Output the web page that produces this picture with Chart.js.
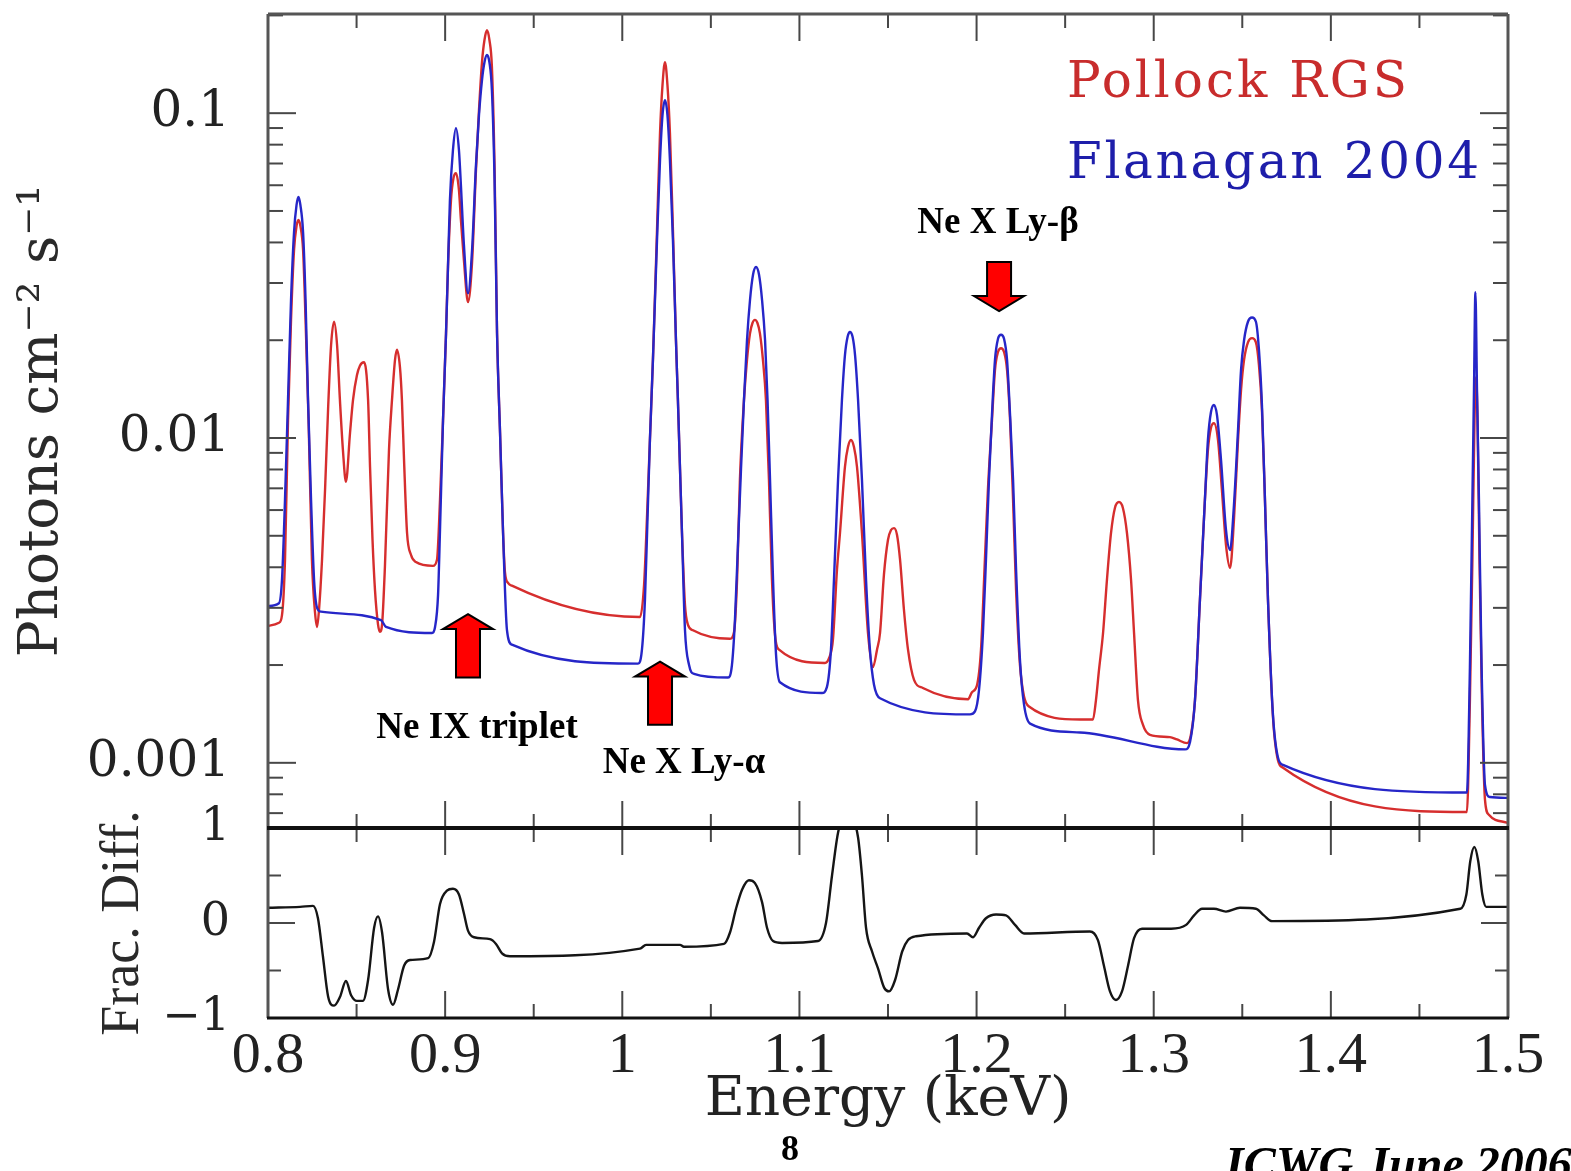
<!DOCTYPE html>
<html>
<head>
<meta charset="utf-8">
<title>Pollock RGS vs Flanagan 2004</title>
<script src="https://cdn.jsdelivr.net/npm/chart.js@4.4.1/dist/chart.umd.min.js"></script>
<style>
    html, body { margin: 0; padding: 0; background: #fff; }
    #wrap { position: relative; width: 1571px; height: 1171px; overflow: hidden; }
    canvas { display: block; }
</style>
</head>
<body>
<div id="wrap"><canvas id="spectrum" width="1571" height="1171"></canvas></div>
<script>
/* Ne IX / Ne X region: RGS spectrum against the Flanagan 2004 model, with fractional difference below */

const energyTicks = [0.8, 0.9, 1.0, 1.1, 1.2, 1.3, 1.4, 1.5];
const energyTickText = ['0.8', '0.9', '1', '1.1', '1.2', '1.3', '1.4', '1.5'];
const fluxTicks = [0.001, 0.01, 0.1];
const fluxTickText = ['0.001', '0.01', '0.1'];
const diffTicks = [-1, 0, 1];
const diffTickText = ['\u22121', '0', '1'];

const seriesNames = ['Pollock RGS', 'Flanagan 2004'];

/* Pollock RGS (photons cm-2 s-1) */
const rgsEnergy = [
    0.8000, 0.8062, 0.8079, 0.8096, 0.8113, 0.8130, 0.8147, 0.8161, 0.8172, 0.8183, 0.8198, 0.8212, 0.8229, 0.8248, 0.8265, 0.8277,
    0.8288, 0.8305, 0.8322, 0.8339, 0.8356, 0.8373, 0.8390, 0.8406, 0.8423, 0.8440,
    0.8463, 0.8480, 0.8502, 0.8519, 0.8542, 0.8565, 0.8576, 0.8590, 0.8604, 0.8621, 0.8632,
    0.8644, 0.8660, 0.8683, 0.8700, 0.8717, 0.8728, 0.8745, 0.8756, 0.8768, 0.8785, 0.8807, 0.8835, 0.8931,
    0.8954, 0.8971, 0.8988, 0.9005, 0.9016, 0.9033, 0.9047, 0.9061, 0.9078, 0.9089, 0.9106, 0.9129, 0.9152, 0.9174, 0.9191, 0.9208, 0.9222, 0.9236, 0.9250, 0.9264, 0.9279, 0.9293, 0.9310, 0.9327, 0.9338, 0.9355, 0.9377,
    1.0100, 1.0123, 1.0140, 1.0156, 1.0173, 1.0196, 1.0213, 1.0227, 1.0241, 1.0255, 1.0269, 1.0286, 1.0303, 1.0314, 1.0337, 1.0354, 1.0371, 1.0399,
    1.0608, 1.0631, 1.0648, 1.0664, 1.0687, 1.0704, 1.0721, 1.0735, 1.0749, 1.0763, 1.0777, 1.0794, 1.0811, 1.0828, 1.0845, 1.0862, 1.0885,
    1.1144, 1.1167, 1.1189, 1.1212, 1.1229, 1.1257, 1.1274, 1.1291, 1.1308, 1.1325, 1.1353, 1.1387, 1.1415, 1.1438, 1.1455, 1.1477, 1.1500, 1.1517, 1.1534, 1.1551, 1.1568, 1.1590, 1.1613, 1.1647, 1.1697,
    1.1952, 1.1974, 1.2002, 1.2025, 1.2047, 1.2064, 1.2087, 1.2104, 1.2121, 1.2138, 1.2155, 1.2172, 1.2189, 1.2206, 1.2223, 1.2245, 1.2268, 1.2296,
    1.2584, 1.2657, 1.2674, 1.2691, 1.2714, 1.2736, 1.2759, 1.2781, 1.2804, 1.2826, 1.2849, 1.2872, 1.2889, 1.2911, 1.2939, 1.2979, 1.3092, 1.3131, 1.3188,
    1.3210, 1.3233, 1.3261, 1.3289, 1.3306, 1.3323, 1.3340, 1.3363, 1.3385, 1.3408, 1.3431, 1.3453, 1.3476, 1.3493, 1.3510, 1.3532, 1.3555, 1.3577, 1.3594, 1.3611, 1.3628, 1.3645, 1.3673, 1.3701, 1.3730,
    1.4768, 1.4785, 1.4799, 1.4811, 1.4819, 1.4828, 1.4839, 1.4853, 1.4870, 1.4892, 1.5000
];
const rgsFlux = [
    0.00264, 0.0027, 0.00285, 0.00422, 0.01135, 0.0231, 0.0379, 0.0449, 0.0469, 0.0449, 0.0379, 0.0231, 0.01135, 0.00422, 0.00292, 0.00262,
    0.00296, 0.00422, 0.00692, 0.0122, 0.0193, 0.0228, 0.0193, 0.0131, 0.00918, 0.00733,
    0.01036, 0.0131, 0.0156, 0.0167, 0.0171, 0.0131, 0.00815, 0.00486, 0.0034, 0.00267, 0.00253,
    0.00267, 0.00401, 0.00918, 0.0131, 0.0174, 0.0187, 0.0165, 0.0131, 0.00855, 0.0051, 0.00437, 0.00415, 0.00404,
    0.00422, 0.00645, 0.01135, 0.021, 0.0336, 0.054, 0.0631, 0.0653, 0.058, 0.0469, 0.0353, 0.0262, 0.0348, 0.0668, 0.102, 0.1435, 0.168, 0.180, 0.168, 0.1386, 0.0682, 0.021, 0.01036, 0.0051, 0.00385, 0.00358, 0.00351,
    0.00281, 0.00353, 0.0058, 0.00986, 0.0174, 0.0436, 0.0868, 0.122, 0.1435, 0.122, 0.0868, 0.0436, 0.02, 0.0131, 0.0051, 0.00306, 0.00266, 0.00256,
    0.00241, 0.00253, 0.00366, 0.00743, 0.0131, 0.0174, 0.021, 0.0226, 0.0231, 0.0226, 0.021, 0.0174, 0.0131, 0.00743, 0.00366, 0.00248, 0.00223,
    0.00203, 0.0021, 0.00239, 0.00393, 0.0051, 0.00815, 0.00938, 0.00986, 0.00938, 0.00815, 0.0051, 0.00251, 0.00197, 0.00223, 0.00251, 0.00379, 0.00486, 0.00521, 0.00528, 0.00503, 0.00422, 0.00296, 0.00223, 0.0018, 0.0017,
    0.00157, 0.00165, 0.00173, 0.00223, 0.00422, 0.00692, 0.01135, 0.0162, 0.0184, 0.0189, 0.0184, 0.0162, 0.01135, 0.00645, 0.0034, 0.002, 0.0016, 0.00149,
    0.00136, 0.00136, 0.00156, 0.00193, 0.00251, 0.00366, 0.0051, 0.00609, 0.00635, 0.00609, 0.0051, 0.00366, 0.00251, 0.00156, 0.00131, 0.00122, 0.0012, 0.00118, 0.00115,
    0.00122, 0.00156, 0.00318, 0.00645, 0.00918, 0.01074, 0.0111, 0.00986, 0.00692, 0.00469, 0.00398, 0.0056, 0.00986, 0.01406, 0.0174, 0.0197, 0.0203, 0.0197, 0.0168, 0.0122, 0.00645, 0.00318, 0.00139, 0.00102, 0.000966,
    0.000706, 0.00156, 0.00422, 0.01135, 0.0154, 0.01135, 0.00422, 0.00156, 0.00077, 0.000692, 0.000653
];

/* Flanagan 2004 model */
const flanEnergy = [
    0.8000, 0.8062, 0.8079, 0.8096, 0.8113, 0.8130, 0.8147, 0.8161, 0.8172, 0.8183, 0.8198, 0.8212, 0.8226, 0.8243, 0.8260, 0.8277, 0.8299, 0.8638, 0.8666, 0.8926,
    0.8943, 0.8960, 0.8971, 0.8988, 0.9005, 0.9016, 0.9027, 0.9044, 0.9061, 0.9078, 0.9089, 0.9106, 0.9129, 0.9152, 0.9174, 0.9191, 0.9208, 0.9222, 0.9236, 0.9250, 0.9264, 0.9279, 0.9293, 0.9310, 0.9327, 0.9349, 0.9377,
    1.0089, 1.0111, 1.0128, 1.0143, 1.0156, 1.0173, 1.0196, 1.0213, 1.0227, 1.0241, 1.0255, 1.0269, 1.0286, 1.0303, 1.0314, 1.0337, 1.0354, 1.0377, 1.0405,
    1.0597, 1.0619, 1.0636, 1.0653, 1.0670, 1.0687, 1.0704, 1.0721, 1.0738, 1.0755, 1.0772, 1.0789, 1.0806, 1.0820, 1.0834, 1.0851, 1.0868, 1.0890,
    1.1127, 1.1155, 1.1178, 1.1195, 1.1218, 1.1240, 1.1257, 1.1272, 1.1285, 1.1300, 1.1314, 1.1331, 1.1353, 1.1376, 1.1398, 1.1421, 1.1455,
    1.1963, 1.1991, 1.2014, 1.2036, 1.2053, 1.2070, 1.2087, 1.2104, 1.2121, 1.2138, 1.2155, 1.2172, 1.2189, 1.2206, 1.2223, 1.2245, 1.2268, 1.2302, 1.2584,
    1.3177, 1.3205, 1.3233, 1.3261, 1.3289, 1.3306, 1.3323, 1.3340, 1.3357, 1.3380, 1.3408, 1.3431, 1.3453, 1.3476, 1.3493, 1.3510, 1.3532, 1.3555, 1.3577, 1.3594, 1.3611, 1.3628, 1.3645, 1.3673, 1.3701, 1.3730,
    1.4768, 1.4785, 1.4799, 1.4808, 1.4816, 1.4825, 1.4836, 1.4851, 1.4870, 1.4898, 1.5000
];
const flanFlux = [
    0.00304, 0.0031, 0.00366, 0.00645, 0.0131, 0.0266, 0.043, 0.0521, 0.0552, 0.0521, 0.043, 0.0266, 0.0131, 0.00645, 0.00366, 0.003, 0.00292, 0.00275, 0.00262, 0.00251,
    0.00262, 0.00329, 0.00521, 0.01135, 0.021, 0.0336, 0.054, 0.0769, 0.0899, 0.0769, 0.06, 0.0393, 0.0279, 0.0379, 0.0692, 0.0986, 0.1265, 0.1435, 0.151, 0.1435, 0.1177, 0.0622, 0.021, 0.01036, 0.0051, 0.00256, 0.00231,
    0.00202, 0.00223, 0.00318, 0.0058, 0.00986, 0.0174, 0.0406, 0.0717, 0.0986, 0.1096, 0.0986, 0.0717, 0.0406, 0.02, 0.0131, 0.0051, 0.00256, 0.002, 0.00188,
    0.00183, 0.002, 0.00275, 0.00469, 0.00798, 0.0131, 0.02, 0.0266, 0.0318, 0.0336, 0.0318, 0.0266, 0.02, 0.0131, 0.00743, 0.00366, 0.00215, 0.00177,
    0.00164, 0.00171, 0.00223, 0.00366, 0.00743, 0.0131, 0.018, 0.0205, 0.0212, 0.0205, 0.018, 0.0131, 0.00743, 0.00366, 0.00223, 0.00174, 0.00158,
    0.00141, 0.00144, 0.00168, 0.00251, 0.00422, 0.00743, 0.01178, 0.0174, 0.0202, 0.0208, 0.0202, 0.0174, 0.01178, 0.00743, 0.00393, 0.00207, 0.00151, 0.00132, 0.00124,
    0.0011, 0.00116, 0.00156, 0.00318, 0.00645, 0.00986, 0.012, 0.01264, 0.01178, 0.00855, 0.00521, 0.00452, 0.00622, 0.01059, 0.0162, 0.02, 0.0228, 0.0235, 0.0228, 0.0187, 0.01264, 0.00645, 0.00318, 0.00141, 0.00104, 0.000986,
    0.00081, 0.00197, 0.00645, 0.01406, 0.0281, 0.01406, 0.00645, 0.00197, 0.000855, 0.000785, 0.00078
];

/* fractional difference */
const diffEnergy = [
    0.8000, 0.8181, 0.8254, 0.8282, 0.8310, 0.8339, 0.8373, 0.8406, 0.8440, 0.8469, 0.8502, 0.8536, 0.8565, 0.8599, 0.8621, 0.8644, 0.8678, 0.8706, 0.8734, 0.8768, 0.8802, 0.8904,
    0.8937, 0.8971, 0.9010, 0.9044, 0.9078, 0.9106, 0.9129, 0.9163, 0.9253, 0.9287, 0.9321, 0.9366,
    1.0100, 1.0134, 1.0326, 1.0348, 1.0574, 1.0608, 1.0642, 1.0676, 1.0715, 1.0749, 1.0789, 1.0817, 1.0851, 1.0902,
    1.1105, 1.1150, 1.1184, 1.1218, 1.1251, 1.1297, 1.1331, 1.1353, 1.1376, 1.1410, 1.1444, 1.1478, 1.1506, 1.1540, 1.1580, 1.1613, 1.1658,
    1.1946, 1.1980, 1.2014, 1.2053, 1.2110, 1.2166, 1.2217, 1.2268, 1.2640, 1.2685, 1.2719, 1.2753, 1.2787, 1.2821, 1.2855, 1.2889, 1.2934,
    1.3098, 1.3183, 1.3228, 1.3273, 1.3340, 1.3408, 1.3487, 1.3577, 1.3622, 1.3668, 1.4731, 1.4765, 1.4787, 1.4810, 1.4832, 1.4855, 1.4877, 1.5000
];
const diffValue = [
    0.16, 0.17, 0.18, 0.05, -0.35, -0.77, -0.87, -0.78, -0.61, -0.76, -0.82, -0.82, -0.6, -0.05, 0.07, -0.1, -0.7, -0.86, -0.7, -0.45, -0.39, -0.37,
    -0.2, 0.2, 0.34, 0.36, 0.3, 0.1, -0.08, -0.15, -0.17, -0.22, -0.32, -0.35,
    -0.27, -0.23, -0.23, -0.25, -0.22, -0.1, 0.15, 0.35, 0.45, 0.42, 0.22, -0.05, -0.19, -0.21,
    -0.19, 0.0, 0.5, 0.95, 1.12, 1.1, 0.9, 0.5, -0.05, -0.3, -0.48, -0.68, -0.72, -0.6, -0.3, -0.18, -0.14,
    -0.11, -0.15, -0.05, 0.05, 0.09, 0.08, -0.02, -0.11, -0.09, -0.18, -0.45, -0.72, -0.81, -0.72, -0.45, -0.16, -0.06,
    -0.06, -0.02, 0.08, 0.15, 0.15, 0.12, 0.16, 0.15, 0.08, 0.02, 0.15, 0.3, 0.65, 0.8, 0.65, 0.3, 0.17, 0.17
];

/* line labels: arrow tip/tail and text anchor, all in data units */
const lineNotes = [
    { label: 'Ne IX triplet', energy: 0.9129, tipFlux: 0.00287, tailFlux: 0.00183, textEnergy: 0.9180, textFlux: 0.00119 },
    { label: 'Ne X Ly-\u03b1', energy: 1.0213, tipFlux: 0.00205, tailFlux: 0.00131, textEnergy: 1.0348, textFlux: 0.000931 },
    { label: 'Ne X Ly-\u03b2', energy: 1.2127, tipFlux: 0.0246, tailFlux: 0.0348, textEnergy: 1.2121, textFlux: 0.0428 }
];

const RED = 'rgb(214, 46, 46)';
const BLUE = 'rgb(38, 38, 200)';
const SERIF = "'DejaVu Serif', serif";
const TIMES = "'Liberation Serif', 'Times New Roman', serif";

function toPoints(xs, ys) {
    return xs.map((x, i) => ({ x: x, y: ys[i] }));
}

/* Frame with inward tick marks, drawn on both panels */
const panelFrames = {
    id: 'panelFrames',
    afterDatasetsDraw(chart) {
        const { ctx, scales } = chart;
        const x = scales.x, yF = scales.y, yD = scales.yDiff;
        const left = x.left, right = x.right;
        const top = yF.top, mid = yF.bottom, bottom = yD.bottom;
        const line = (x1, y1, x2, y2) => {
            ctx.beginPath();
            ctx.moveTo(x1, y1);
            ctx.lineTo(x2, y2);
            ctx.stroke();
        };
        ctx.save();
        ctx.lineCap = 'butt';
        ctx.strokeStyle = '#474747';
        ctx.lineWidth = 2;

        for (let k = 0; k <= 14; k++) {
            const px = x.getPixelForValue(0.8 + k * 0.05);
            const len = k % 2 === 0 ? 27 : 14;
            line(px, top, px, top + len);
            line(px, mid, px, mid - len);
            line(px, mid, px, mid + len);
            line(px, bottom, px, bottom - len);
        }

        for (let d = -4; d <= -1; d++) {
            for (let m = 1; m <= 9; m++) {
                const v = m * Math.pow(10, d);
                if (v < yF.min || v > yF.max) continue;
                const py = yF.getPixelForValue(v);
                const len = m === 1 ? 28 : 15;
                line(left, py, left + len, py);
                line(right, py, right - len, py);
            }
        }

        [-0.5, 0, 0.5].forEach(v => {
            const py = yD.getPixelForValue(v);
            const len = v === 0 ? 27 : 13;
            line(left, py, left + len, py);
            line(right, py, right - len, py);
        });

        ctx.strokeStyle = '#555';
        ctx.lineWidth = 3;
        line(left, top, right, top);
        line(left, top, left, bottom);
        line(right, top, right, bottom);
        ctx.strokeStyle = '#111';
        ctx.lineWidth = 4;
        line(left - 1, mid, right + 1, mid);
        ctx.lineWidth = 3;
        line(left - 1, bottom, right + 1, bottom);
        ctx.restore();
    }
};

function drawArrow(ctx, tx, ty, tailY) {
    const s = tailY > ty ? 1 : -1;
    const head = 15, halfHead = 25, halfShaft = 12;
    ctx.beginPath();
    ctx.moveTo(tx, ty);
    ctx.lineTo(tx + halfHead, ty + s * head);
    ctx.lineTo(tx + halfShaft, ty + s * head);
    ctx.lineTo(tx + halfShaft, tailY);
    ctx.lineTo(tx - halfShaft, tailY);
    ctx.lineTo(tx - halfShaft, ty + s * head);
    ctx.lineTo(tx - halfHead, ty + s * head);
    ctx.closePath();
    ctx.fillStyle = '#ff0000';
    ctx.fill();
    ctx.strokeStyle = '#000';
    ctx.lineWidth = 2;
    ctx.stroke();
}

function spacedText(ctx, text, x, y, width) {
    ctx.letterSpacing = '0px';
    const w = ctx.measureText(text).width;
    ctx.letterSpacing = ((width - w) / (text.length - 1)) + 'px';
    ctx.fillText(text, x, y);
    ctx.letterSpacing = '0px';
}

/* Legend text, line labels and page footer */
const annotations = {
    id: 'annotations',
    afterDraw(chart) {
        const { ctx, scales } = chart;
        const x = scales.x, yF = scales.y;
        ctx.save();

        lineNotes.forEach(n => {
            const px = x.getPixelForValue(n.energy);
            drawArrow(ctx, px, yF.getPixelForValue(n.tipFlux), yF.getPixelForValue(n.tailFlux));
            ctx.font = 'bold 37px ' + TIMES;
            ctx.fillStyle = '#000';
            ctx.textAlign = 'center';
            ctx.textBaseline = 'alphabetic';
            ctx.fillText(n.label, x.getPixelForValue(n.textEnergy), yF.getPixelForValue(n.textFlux));
        });

        ctx.textAlign = 'left';
        ctx.textBaseline = 'alphabetic';
        ctx.font = '50px ' + SERIF;
        ctx.fillStyle = 'rgb(200, 44, 44)';
        spacedText(ctx, seriesNames[0], 1067, 97, 340);
        ctx.fillStyle = 'rgb(30, 30, 170)';
        spacedText(ctx, seriesNames[1], 1067, 178, 412);

        ctx.fillStyle = '#000';
        ctx.textAlign = 'center';
        ctx.font = 'bold 36px ' + TIMES;
        ctx.fillText('8', 790, 1160);
        ctx.textAlign = 'left';
        ctx.font = 'italic bold 48px ' + TIMES;
        ctx.fillText('ICWG June 2006', 1225, 1180);
        ctx.restore();
    }
};

new Chart(document.getElementById('spectrum'), {
    type: 'line',
    data: {
        datasets: [
            {
                label: seriesNames[0],
                data: toPoints(rgsEnergy, rgsFlux),
                borderColor: RED,
                yAxisID: 'y',
                order: 2
            },
            {
                label: seriesNames[1],
                data: toPoints(flanEnergy, flanFlux),
                borderColor: BLUE,
                yAxisID: 'y',
                order: 1
            },
            {
                label: 'Frac. Diff.',
                data: toPoints(diffEnergy, diffValue),
                borderColor: '#151515',
                yAxisID: 'yDiff',
                order: 0
            }
        ]
    },
    options: {
        responsive: false,
        animation: false,
        devicePixelRatio: 1,
        layout: { padding: { left: 0, top: 14, right: 63, bottom: 0 } },
        elements: {
            point: { radius: 0 },
            line: { borderWidth: 2.4, cubicInterpolationMode: 'monotone', fill: false }
        },
        plugins: {
            legend: { display: false },
            tooltip: { enabled: false }
        },
        scales: {
            x: {
                type: 'linear',
                min: 0.8,
                max: 1.5,
                bounds: 'data',
                grid: { display: false, drawTicks: false },
                border: { display: false },
                afterBuildTicks: s => { s.ticks = energyTicks.map(v => ({ value: v })); },
                afterFit: s => { s.height = 153; s.paddingLeft = 0; s.paddingRight = 0; },
                ticks: {
                    autoSkip: false,
                    maxRotation: 0,
                    padding: 10,
                    color: '#222',
                    font: { family: TIMES, size: 58, lineHeight: 1 },
                    callback: (v, i) => energyTickText[i]
                },
                title: {
                    display: true,
                    text: 'Energy (keV)',
                    color: '#222',
                    font: { family: SERIF, size: 55, lineHeight: 1 },
                    padding: { top: 0, bottom: 43 }
                }
            },
            y: {
                type: 'logarithmic',
                position: 'left',
                stack: 'panels',
                stackWeight: 814,
                weight: 2,
                min: 0.00063,
                max: 0.202,
                bounds: 'data',
                grid: { display: false, drawTicks: false },
                border: { display: false },
                afterBuildTicks: s => { s.ticks = fluxTicks.map(v => ({ value: v })); },
                afterFit: s => { s.width = 268; s.paddingTop = 0; s.paddingBottom = 0; },
                ticks: {
                    autoSkip: false,
                    padding: 38,
                    color: '#222',
                    font: { family: SERIF, size: 50, lineHeight: 1 },
                    callback: (v, i) => fluxTickText[i]
                },
                title: {
                    display: true,
                    text: 'Photons cm\u207b\u00b2 s\u207b\u00b9',
                    color: '#2a2a2a',
                    font: { family: SERIF, size: 55, lineHeight: 1 },
                    padding: { top: 15, bottom: 0 }
                }
            },
            yDiff: {
                type: 'linear',
                position: 'left',
                stack: 'panels',
                stackWeight: 190,
                weight: 1,
                min: -1,
                max: 1,
                bounds: 'data',
                grid: { display: false, drawTicks: false },
                border: { display: false },
                afterBuildTicks: s => { s.ticks = diffTicks.map(v => ({ value: v })); },
                afterFit: s => { s.width = 268; s.paddingTop = 0; s.paddingBottom = 0; },
                ticks: {
                    autoSkip: false,
                    padding: 38,
                    color: '#222',
                    font: { family: SERIF, size: 46, lineHeight: 1 },
                    callback: (v, i) => diffTickText[i]
                },
                title: {
                    display: true,
                    text: 'Frac. Diff.',
                    color: '#2a2a2a',
                    font: { family: TIMES, size: 54, lineHeight: 1 },
                    padding: { top: 97, bottom: 0 }
                }
            }
        }
    },
    plugins: [panelFrames, annotations]
});
</script>
</body>
</html>
